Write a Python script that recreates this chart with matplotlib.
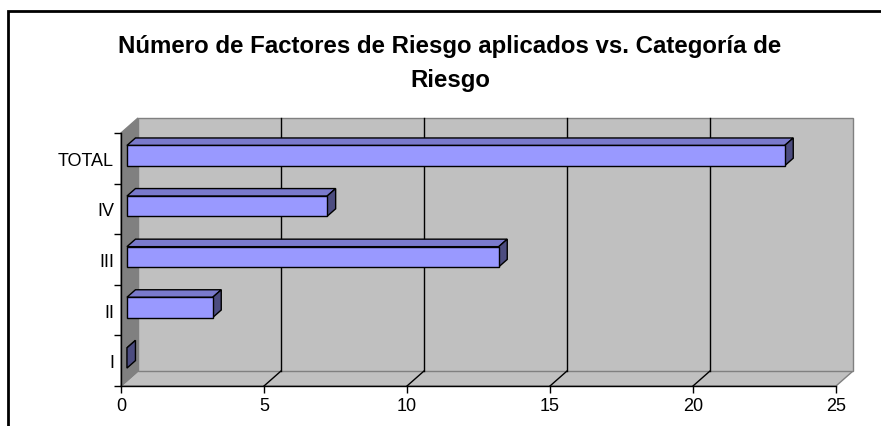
import matplotlib
matplotlib.use("Agg")
import matplotlib.pyplot as plt
from matplotlib.patches import Polygon, Rectangle

plt.rcParams['font.family'] = ['Liberation Sans', 'DejaVu Sans']

# Categories and number of risk factors applied
categories = ['I', 'II', 'III', 'IV', 'TOTAL']
values = [0, 3, 13, 7, 23]
x_ticks = [0, 5, 10, 15, 20, 25]
title = 'Número de Factores de Riesgo aplicados vs. Categoría de\nRiesgo'

W, H = 881, 427
fig = plt.figure(figsize=(W / 100, H / 100), dpi=100)

# pixel layout of the plot box (front plane)
px0, px25 = 121, 836
py_bot, py_top = 387, 134
xs = (px25 - px0) / 25.0
ys = (py_bot - py_top) / 5.0

ax = fig.add_axes([0, 0, 1, 1])
ax.set_xlim(-px0 / xs, (W - px0) / xs)
ax.set_ylim(-0.5 - (H - py_bot) / ys, -0.5 + py_bot / ys)

# depth of the 3D box, in data units
DX = 17 / xs
DY = 15 / ys


def proj(v, y, d):
    return (v + DX * d, y + DY * d)


wall = '#c0c0c0'
dark = '#808080'
n = len(categories)
ylo, yhi = -0.5, n - 0.5
xmax = x_ticks[-1]

# floor
ax.add_patch(Polygon([proj(0, ylo, 0), proj(xmax, ylo, 0), proj(xmax, ylo, 1),
                      proj(0, ylo, 1)], closed=True, fc=wall, ec=dark, lw=1, zorder=1))
# back wall
ax.add_patch(Polygon([proj(0, ylo, 1), proj(xmax, ylo, 1), proj(xmax, yhi, 1),
                      proj(0, yhi, 1)], closed=True, fc=wall, ec=dark, lw=1, zorder=1))
# left wall
ax.add_patch(Polygon([proj(0, ylo, 0), proj(0, ylo, 1), proj(0, yhi, 1),
                      proj(0, yhi, 0)], closed=True, fc=dark, ec=dark, lw=1, zorder=1))

# gridlines on back wall and floor
for t in x_ticks[1:-1]:
    a, b = proj(t, ylo, 1), proj(t, yhi, 1)
    ax.plot([a[0], b[0]], [a[1], b[1]], color='black', lw=1, zorder=2)
    c = proj(t, ylo, 0)
    ax.plot([c[0], a[0]], [c[1], a[1]], color='black', lw=1, zorder=2)

# 3D bars
d0, d1 = 0.35, 0.85
front_c, top_c, side_c = '#9999ff', '#7a7acc', '#4c4c80'
for i, v in enumerate(values):
    yb, yt = i - 0.25, i + 0.15
    front = [proj(0, yb, d0), proj(v, yb, d0), proj(v, yt, d0), proj(0, yt, d0)]
    top = [proj(0, yt, d0), proj(v, yt, d0), proj(v, yt, d1), proj(0, yt, d1)]
    side = [proj(v, yb, d0), proj(v, yb, d1), proj(v, yt, d1), proj(v, yt, d0)]
    ax.add_patch(Polygon(top, closed=True, fc=top_c, ec='black', lw=1, zorder=3))
    ax.add_patch(Polygon(side, closed=True, fc=side_c, ec='black', lw=1, zorder=3))
    if v > 0:
        ax.add_patch(Polygon(front, closed=True, fc=front_c, ec='black', lw=1, zorder=4))

# axes lines, ticks and labels
for s in ['top', 'right']:
    ax.spines[s].set_visible(False)
ax.spines['bottom'].set_position(('data', ylo))
ax.spines['bottom'].set_bounds(0, xmax)
ax.spines['left'].set_position(('data', 0))
ax.spines['left'].set_bounds(ylo, yhi)
for s in ['bottom', 'left']:
    ax.spines[s].set_zorder(5)
    ax.spines[s].set_linewidth(1)

ax.set_xticks(x_ticks)
ax.set_xticklabels([str(t) for t in x_ticks])
ax.set_yticks(range(n))
ax.set_yticklabels(categories)
ax.set_yticks([k - 0.5 for k in range(n + 1)], minor=True)
ax.tick_params(axis='x', direction='out', length=5, width=1, labelsize=13, pad=3)
ax.tick_params(axis='y', which='major', length=0, labelsize=13, pad=5)
ax.tick_params(axis='y', which='minor', direction='out', length=5, width=1)

fig.text(450 / W, 1 - 35 / H, title, ha='center', va='top', fontsize=17.3,
         fontweight='bold', linespacing=1.6)

# chart frame
fig.patches.append(Rectangle((8 / W, -0.1), 1.2, 1.1 - 12 / H, transform=fig.transFigure,
                             fill=False, ec='black', lw=2, zorder=10))

fig.savefig('out.png', dpi=100)
